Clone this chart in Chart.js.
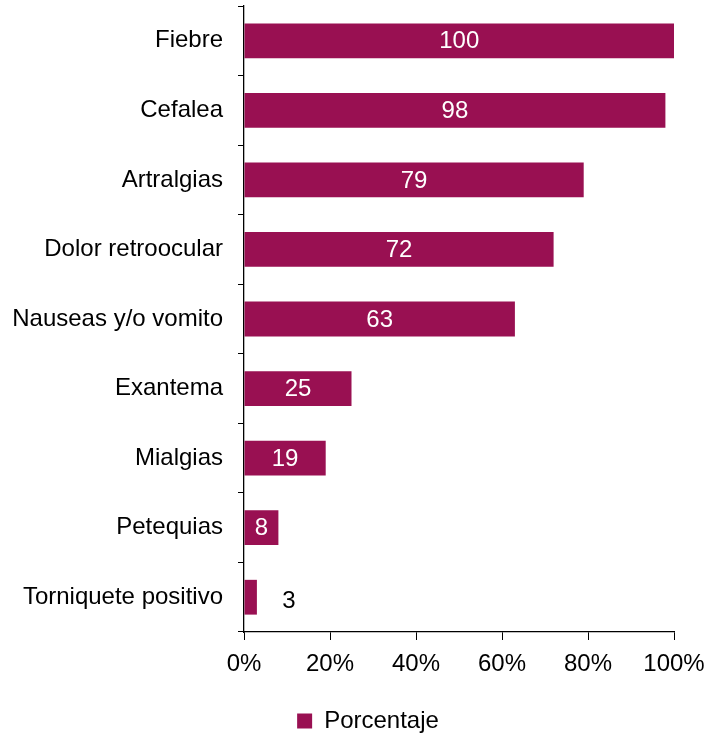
<!DOCTYPE html>
<html>
<head>
<meta charset="utf-8">
<script src="https://cdn.jsdelivr.net/npm/chart.js@4/dist/chart.umd.min.js"></script>
<style>
  html, body { margin: 0; padding: 0; background: #fff; }
  #wrap { width: 709px; height: 735px; }
</style>
</head>
<body>
<div id="wrap"><canvas id="chart"></canvas></div>
<script>
// datos del gráfico
const sintomas = ["Fiebre", "Cefalea", "Artralgias", "Dolor retroocular", "Nauseas y/o vomito",
  "Exantema", "Mialgias", "Petequias", "Torniquete positivo"];
const porcentajes = [100, 98, 79, 72, 63, 25, 19, 8, 3];
const ticksX = [0, 20, 40, 60, 80, 100];
const serie = "Porcentaje";

const color = "#991052";
const fuente = "'Liberation Sans', Arial, sans-serif";

// etiquetas de valor sobre las barras
const etiquetas = {
  id: "etiquetas",
  afterLayout(chart) {
    // la leyenda va un poco a la derecha, como en el original
    chart.legend.left += 31;
    chart.legend.right += 31;
  },
  afterDatasetsDraw(chart) {
    const ctx = chart.ctx;
    const meta = chart.getDatasetMeta(0);
    ctx.save();
    ctx.font = "24px " + fuente;
    ctx.textBaseline = "middle";
    ctx.textAlign = "center";
    meta.data.forEach(function (bar, i) {
      const v = porcentajes[i];
      if (v < 5) {
        ctx.fillStyle = "#000";
        ctx.fillText(String(v), bar.x + 32, bar.y + 4);
      } else {
        ctx.fillStyle = "#fff";
        ctx.fillText(String(v), (bar.x + bar.base) / 2, bar.y + 1);
      }
    });
    ctx.restore();
  }
};

new Chart(document.getElementById("chart"), {
  type: "bar",
  data: {
    labels: sintomas,
    datasets: [{
      label: serie,
      data: porcentajes,
      backgroundColor: color,
      barPercentage: 0.5,
      categoryPercentage: 1.0
    }]
  },
  plugins: [etiquetas],
  options: {
    indexAxis: "y",
    responsive: true,
    maintainAspectRatio: false,
    animation: false,
    layout: { padding: { top: 6, left: 0, right: 35, bottom: -8 } },
    scales: {
      x: {
        min: 0,
        max: 100,
        afterBuildTicks: function (scale) {
          scale.ticks = ticksX.map(function (v) { return { value: v }; });
        },
        afterFit: function (scale) {
          scale.height = 69;
          scale.paddingLeft = 0;
          scale.paddingRight = 0;
        },
        ticks: {
          color: "#000",
          font: { family: fuente, size: 24 },
          padding: 10,
          maxRotation: 0,
          callback: function (v) { return v + "%"; }
        },
        grid: { drawOnChartArea: false, color: "#000", tickLength: 8 },
        border: { color: "#000", width: 1.3 }
      },
      y: {
        afterFit: function (scale) {
          scale.width = 244;
          scale.paddingTop = 0;
          scale.paddingBottom = 0;
        },
        ticks: {
          color: "#000",
          font: { family: fuente, size: 24 },
          padding: 15
        },
        grid: { drawOnChartArea: false, color: "#000", tickLength: 6, offset: true },
        border: { color: "#000", width: 1.3 }
      }
    },
    plugins: {
      legend: {
        position: "bottom",
        labels: {
          color: "#000",
          font: { family: fuente, size: 24 },
          boxWidth: 15,
          boxHeight: 15,
          padding: 8
        }
      },
      tooltip: { enabled: false }
    }
  }
});
</script>
</body>
</html>
